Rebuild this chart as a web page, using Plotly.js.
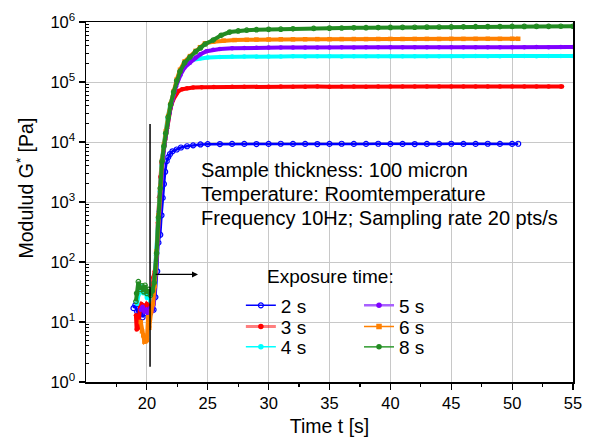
<!DOCTYPE html>
<html>
<head>
<meta charset="utf-8">
<script src="https://cdn.plot.ly/plotly-3.0.1.min.js"></script>
<style>html,body{margin:0;padding:0;background:#fff;}#chart{width:592px;height:441px;}</style>
</head>
<body>
<div id="chart"></div>
<script>
// ---- data ----
const SERIES_NAMES = ['2 s', '3 s', '4 s', '5 s', '6 s', '8 s'];

const T2 = [18.9, 19.05, 19.2, 19.35, 19.5, 19.65, 19.8, 19.95, 20.1, 20.25, 20.4, 20.55,
  20.7, 20.85, 20.95, 21.1, 21.2, 21.3, 21.4, 21.5, 21.63, 21.76,
  21.9, 22.1, 22.45, 22.8, 23.3, 23.8, 24.4, 25,
  26, 27, 28, 29, 30, 31, 32, 33, 34, 35, 36, 37, 38, 39, 40, 41, 42, 43, 44, 45, 46, 47, 48, 49, 50, 50.5];
const G2 = [17, 19, 15, 13, 16, 12, 14, 16, 15, 14, 16, 16,
  26, 70, 210, 285, 600, 1170, 2000, 3200, 4800, 5600,
  6300, 7000, 7500, 8100, 8500, 8800, 9100, 9200,
  9250, 9300, 9300, 9250, 9300, 9350, 9300, 9300, 9250, 9300, 9350, 9300, 9300, 9350, 9300, 9300, 9250, 9300, 9300, 9350, 9300, 9300, 9350, 9300, 9300, 9350];

const T3 = [19.1, 19.16, 19.3, 19.44, 19.55, 19.7, 19.85, 20.0, 20.15, 20.3, 20.45, 20.53,
  20.65, 20.8, 20.9, 21.0, 21.1, 21.2, 21.35, 21.5, 21.65, 21.8, 21.95, 22.15, 22.4, 22.6, 22.9, 23.3, 23.8, 24.5, 25.5,
  27, 28, 29, 30, 31, 32, 33, 34, 35, 36, 37, 38, 39, 40, 41, 42, 43, 44, 45, 46, 47, 48, 49, 50, 51, 52, 53, 54, 54.1];
const G3 = [13, 7.5, 8, 18, 20, 19, 16, 20, 19, 21, 20, 55,
  70, 150, 450, 1200, 2600, 4500, 7000, 11000, 17000, 26000, 37000, 50000, 63000, 71000, 76000, 79000, 81000, 82000, 82500,
  83000, 83500, 83000, 83500, 84000, 83500, 83500, 84000, 83500, 84000, 84000, 83500, 84000, 84500, 84000, 84000, 84500, 84000, 84500, 84000, 84500, 84500, 84000, 84500, 84500, 84000, 84500, 84500, 84000];

const T4 = [19.2, 19.3, 19.45, 19.58, 19.7, 19.85, 20.0, 20.15, 20.3, 20.45, 20.6,
  20.75, 20.9, 21.05, 21.2, 21.35, 21.5, 21.7, 21.9, 22.15, 22.45, 22.7, 23.0, 23.4, 23.8, 24.4, 25, 26,
  27, 28, 29, 30, 31, 32, 33, 34, 35, 36, 37, 38, 39, 40, 41, 42, 43, 44, 45, 46, 47, 48, 49, 50, 51, 52, 53, 54, 55];
const G4 = [20, 28, 35, 39, 30, 38, 25, 30, 22, 28, 40,
  130, 500, 1500, 4000, 8000, 14000, 25000, 40000, 60000, 110000, 150000, 185000, 215000, 235000, 248000, 255000, 262000,
  265000, 266000, 267000, 266000, 267000, 268000, 267000, 268000, 268000, 267000, 268000, 269000, 268000, 268000, 269000, 268000, 269000, 269000, 268000, 269000, 270000, 269000, 269000, 270000, 270000, 269000, 270000, 270000, 270000];

const T5 = [19.5, 19.65, 19.8, 19.95, 20.1, 20.25, 20.4, 20.55,
  20.7, 20.85, 21.0, 21.15, 21.3, 21.45, 21.65, 21.85, 22.1, 22.4, 22.75, 23.1, 23.54, 24.0, 24.4, 24.9, 25.45, 26, 27, 28,
  29, 30, 31, 32, 33, 34, 35, 36, 37, 38, 39, 40, 41, 42, 43, 44, 45, 46, 47, 48, 49, 50, 51, 52, 53, 54, 55];
const G5 = [16, 18, 15, 16, 14, 17, 15, 20,
  60, 200, 700, 2000, 4500, 9000, 17000, 30000, 50000, 85000, 130000, 175000, 210000, 255000, 290000, 325000, 345000, 355000, 365000, 370000,
  373000, 375000, 376000, 375000, 377000, 376000, 377000, 378000, 377000, 378000, 378000, 379000, 378000, 379000, 379000, 380000, 379000, 380000, 380000, 381000, 380000, 381000, 381000, 382000, 381000, 382000, 382000];

const T6 = [19.5, 19.6, 19.7, 19.8, 19.9, 20.0, 20.1, 20.2, 20.35, 20.5, 20.65,
  20.8, 20.95, 21.1, 21.25, 21.4, 21.55, 21.75, 21.95, 22.2, 22.45, 22.72, 23.1, 23.54, 24.0, 24.36, 24.77, 25.45, 26.3, 27.2, 28.2,
  29, 30, 31, 32, 33, 34, 35, 36, 37, 38, 39, 40, 41, 42, 43, 44, 45, 46, 47, 48, 49, 50, 50.5];
const G6 = [10, 7, 6, 4.7, 4.8, 5, 12, 8, 15, 20, 40,
  150, 600, 1800, 5000, 9000, 15000, 27000, 43000, 70000, 110000, 160000, 220000, 270000, 330000, 380000, 440000, 470000, 490000, 500000, 505000,
  510000, 512000, 515000, 514000, 516000, 518000, 517000, 519000, 520000, 519000, 521000, 522000, 521000, 522000, 523000, 522000, 524000, 523000, 524000, 525000, 524000, 525000, 525000];

const T8 = [19.1, 19.16, 19.3, 19.45, 19.6, 19.75, 19.85, 20.0, 20.15, 20.3, 20.45, 20.6,
  20.8, 20.95, 21.1, 21.25, 21.4, 21.55, 21.75, 21.95, 22.2, 22.45, 22.72, 23.1, 23.54, 24.0, 24.4, 24.8, 25.45, 26.1, 26.8, 27.5, 28.2,
  29, 30, 31, 32, 33.7, 35, 36, 37, 38, 39, 40, 41, 42, 43, 44, 45, 46, 47, 48, 49, 50, 51, 52, 53, 54, 55];
const G8 = [22, 30, 47, 35, 40, 32, 41, 30, 35, 28, 33, 45,
  140, 550, 1700, 4800, 8500, 14000, 26000, 42000, 68000, 105000, 150000, 210000, 260000, 320000, 370000, 430000, 500000, 600000, 680000, 710000, 730000,
  745000, 755000, 760000, 770000, 780000, 790000, 795000, 800000, 805000, 808000, 812000, 815000, 818000, 822000, 825000, 828000, 832000, 835000, 838000, 840000, 843000, 845000, 846000, 848000, 849000, 850000];

// guide line and arrow
const GUIDE_T = [20.26, 20.26];
const GUIDE_G = [1.8, 20000];
const ARROW_T = [20.6, 24.2];
const ARROW_G = 62;

// axis ticks
const X_TICKS = [20, 25, 30, 35, 40, 45, 50, 55];
const X_TICKTEXT = ['20', '25', '30', '35', '40', '45', '50', '55'];
const X_MINOR = [17.5, 22.5, 27.5, 32.5, 37.5, 42.5, 47.5, 52.5];
const Y_TICKS = [1, 10, 100, 1000, 10000, 100000, 1000000];
const Y_TICKTEXT = ['10<sup>0</sup>', '10<sup>1</sup>', '10<sup>2</sup>', '10<sup>3</sup>', '10<sup>4</sup>', '10<sup>5</sup>', '10<sup>6</sup>'];

const INFO_TEXT = ['Sample thickness: 100 micron', 'Temperature: Roomtemperature', 'Frequency 10Hz; Sampling rate 20 pts/s'];
const LEGEND_TITLE = 'Exposure time:';
const X_TITLE = 'Time t [s]';
const Y_TITLE = 'Modulud G<sup>*</sup> [Pa]';

// ---- styling ----
const FONT = 'Arial, "Liberation Sans", sans-serif';
const TS = [T2, T3, T4, T5, T6, T8];
const GS = [G2, G3, G4, G5, G6, G8];
const COLORS = ['#0000ff', '#ff0000', '#00ffff', '#8000ff', '#ff8000', '#228b22'];
const LEG_LINE = ['#0000ff', 'rgba(255,0,0,0.5)', '#00ffff', '#a860ff', '#ff8000', '#2e9a2e'];
const LEG_LW = [1.5, 3, 1.5, 2.5, 1.5, 1.5];
const SYMBOLS = ['circle-open', 'circle', 'circle', 'circle', 'square', 'circle'];
// legend slot positions (paper coords): two columns, three rows
const LEG_X = [0.318, 0.318, 0.318, 0.5606, 0.5606, 0.5606];
const LEG_Y = [0.2125, 0.1536, 0.0972, 0.2125, 0.1536, 0.0972];

const yMinor = [];
for (let d = 1; d < 1000000; d *= 10) for (let k = 2; k <= 9; k++) yMinor.push(k * d);

const traces = [];
for (let i = 0; i < 6; i++) {
  traces.push({
    x: TS[i], y: GS[i], type: 'scatter', mode: 'lines+markers',
    line: {color: COLORS[i], width: i === 0 ? 2.5 : 4},
    marker: {color: COLORS[i], size: i === 0 ? 5 : 4.5, symbol: i === 5 ? 'circle-open' : SYMBOLS[i],
             line: {width: i === 0 || i === 5 ? 1.2 : 0, color: COLORS[i]}},
    showlegend: false, legendgroup: 'g' + i, hoverinfo: 'skip'
  });
}
const legendNames = ['legend', 'legend2', 'legend3', 'legend4', 'legend5', 'legend6'];
for (let i = 0; i < 6; i++) {
  traces.push({
    x: [null], y: [null], type: 'scatter', mode: 'lines+markers', name: SERIES_NAMES[i],
    line: {color: LEG_LINE[i], width: LEG_LW[i]},
    marker: {color: COLORS[i], size: i === 0 ? 5 : 5.5, symbol: SYMBOLS[i], line: {width: i === 0 ? 1.2 : 0, color: COLORS[i]}},
    legendgroup: 'g' + i, legend: legendNames[i], showlegend: true
  });
}
traces.push({
  x: GUIDE_T, y: GUIDE_G, type: 'scatter', mode: 'lines',
  line: {color: '#000', width: 1.5}, showlegend: false, hoverinfo: 'skip'
});

const layout = {
  width: 592, height: 441,
  margin: {l: 86, r: 19, t: 22, b: 59},
  paper_bgcolor: '#fff', plot_bgcolor: '#fff',
  font: {family: FONT, color: '#000'},
  xaxis: {
    range: [15, 55], tickmode: 'array', tickvals: X_TICKS, ticktext: X_TICKTEXT,
    ticks: 'outside', ticklen: 6, tickwidth: 1.2, tickcolor: '#000',
    showline: true, linecolor: '#000', linewidth: 1.5, mirror: true,
    showgrid: true, gridcolor: '#c8c8c8', gridwidth: 1, zeroline: false,
    tickfont: {size: 16.5, family: FONT},
    minor: {tickmode: 'array', tickvals: X_MINOR, ticks: 'outside', ticklen: 3, tickwidth: 1.2, tickcolor: '#000', showgrid: false},
    title: {text: X_TITLE, font: {size: 19.5, family: FONT}, standoff: 8}
  },
  yaxis: {
    type: 'log', range: [0, 6], tickmode: 'array', tickvals: Y_TICKS, ticktext: Y_TICKTEXT,
    ticks: 'outside', ticklen: 6, tickwidth: 1.2, tickcolor: '#000',
    showline: true, linecolor: '#000', linewidth: 1.5, mirror: true,
    showgrid: true, gridcolor: '#c8c8c8', gridwidth: 1, zeroline: false,
    tickfont: {size: 16.5, family: FONT},
    minor: {tickmode: 'array', tickvals: yMinor, ticks: 'inside', ticklen: 3, tickwidth: 1, tickcolor: '#000', showgrid: false}
  },
  showlegend: true,
  annotations: [
    {xref: 'paper', yref: 'paper', x: 0, xshift: -62, y: 0.5375, xanchor: 'center', yanchor: 'middle',
     textangle: -90, text: Y_TITLE, showarrow: false, font: {size: 19.5, family: FONT, color: '#000'}},
    {xref: 'paper', yref: 'paper', x: 0.502, y: 0.294, xanchor: 'center', yanchor: 'middle',
     text: LEGEND_TITLE, showarrow: false, font: {size: 19, family: FONT, color: '#000'}},
    {xref: 'x', yref: 'y', x: ARROW_T[1], y: Math.log10(ARROW_G), axref: 'x', ayref: 'y',
     ax: ARROW_T[0], ay: Math.log10(ARROW_G), text: '', showarrow: true,
     arrowhead: 2, arrowsize: 1, arrowwidth: 1.2, arrowcolor: '#000', standoff: 0, startstandoff: 0}
  ]
};
const INFO_Y = [0.589, 0.5214, 0.4547];
INFO_TEXT.forEach((t, i) => layout.annotations.push({
  xref: 'paper', yref: 'paper', x: 0.232, y: INFO_Y[i], xanchor: 'left', yanchor: 'middle', align: 'left',
  text: t, showarrow: false, font: {size: 20, family: FONT, color: '#000'}
}));
legendNames.forEach((nm, i) => {
  layout[nm] = {
    bgcolor: 'rgba(0,0,0,0)', borderwidth: 0, font: {family: FONT, size: 19, color: '#000'},
    tracegroupgap: 0, xanchor: 'left', yanchor: 'middle', x: LEG_X[i], y: LEG_Y[i], itemwidth: 30
  };
});

Plotly.newPlot('chart', traces, layout, {staticPlot: true, displayModeBar: false});
</script>
</body>
</html>
